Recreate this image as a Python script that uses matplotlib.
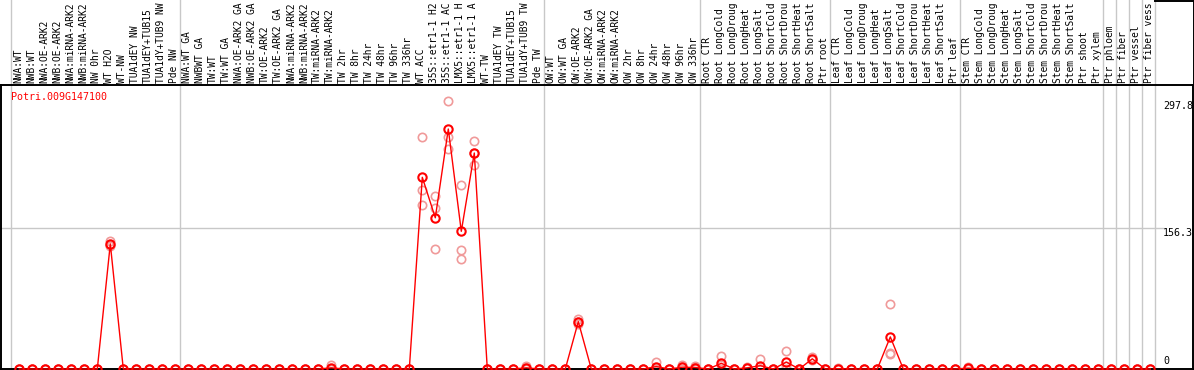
import matplotlib
matplotlib.use("Agg")
import matplotlib.pyplot as plt
import numpy as np
from matplotlib.lines import Line2D

# %%
gene = "Potri.009G147100"

# sample labels as they show in the header (long ones are cut at the top edge there)
labels = [
    # NW
    "NWA:WT", "NWB:WT", "NWA:OE-ARK2", "NWB:OE-ARK2", "NWA:miRNA-ARK2", "NWB:miRNA-ARK2",
    "NW 0hr", "WT H2O", "WT-NW", "TUA1dEY NW", "TUA1dEY+TUB15", "TUA1dY+TUB9 NW", "Pde NW",
    # TW
    "NWA:WT GA", "NWBWT GA", "TW:WT", "TW:WT GA", "NWA:OE-ARK2 GA", "NWB:OE-ARK2 GA",
    "TW:OE-ARK2", "TW:OE-ARK2 GA", "NWA:miRNA-ARK2", "NWB:miRNA-ARK2", "TW:miRNA-ARK2",
    "TW:miRNA-ARK2", "TW 2hr", "TW 8hr", "TW 24hr", "TW 48hr", "TW 96hr", "TW 336hr",
    "WT ACC", "35S::etr1-1 H2", "35S::etr1-1 AC", "LMX5::etr1-1 H", "LMX5::etr1-1 A",
    "WT-TW", "TUA1dEY TW", "TUA1dEY+TUB15", "TUA1dY+TUB9 TW", "Pde TW",
    # OW
    "OW:WT", "OW:WT GA", "OW:OE-ARK2", "OW:OE-ARK2 GA", "OW:miRNA-ARK2", "OW:miRNA-ARK2",
    "OW 2hr", "OW 8hr", "OW 24hr", "OW 48hr", "OW 96hr", "OW 336hr",
    # root
    "Root CTR", "Root LongCold", "Root LongDroug", "Root LongHeat", "Root LongSalt",
    "Root ShortCold", "Root ShortDrou", "Root ShortHeat", "Root ShortSalt", "Ptr root",
    # leaf
    "Leaf CTR", "Leaf LongCold", "Leaf LongDroug", "Leaf LongHeat", "Leaf LongSalt",
    "Leaf ShortCold", "Leaf ShortDrou", "Leaf ShortHeat", "Leaf ShortSalt", "Ptr leaf",
    # stem
    "Stem CTR", "Stem LongCold", "Stem LongDroug", "Stem LongHeat", "Stem LongSalt",
    "Stem ShortCold", "Stem ShortDrou", "Stem ShortHeat", "Stem ShortSalt", "Ptr shoot",
    "Ptr xylem",
    # single tissues
    "Ptr phloem", "Ptr fiber", "Ptr vessel", "Ptr fiber vess",
]

group_sizes = [13, 28, 12, 10, 10, 11, 1, 1, 1, 1]

# replicate values (index -> three replicates), rest are 0
rep_a = [0.0] * 88
rep_b = [0.0] * 88
rep_c = [0.0] * 88
nonzero = {
    7: (142, 138, 137),
    24: (4, 0, 0),
    31: (258, 199, 182),
    32: (192, 179, 133),
    33: (298, 258, 244),
    34: (205, 132, 122),
    35: (253, 227, 240),
    39: (3, 1, 0),
    43: (56, 52, 50),
    49: (8, 0, 0),
    51: (4, 2, 0),
    52: (3, 2, 0),
    54: (15, 4, 0),
    56: (2, 1, 1),
    57: (11, 0, 0),
    59: (20, 3, 0),
    61: (13, 11, 10),
    63: (1, 0, 0),
    67: (72, 18, 17),
    73: (2, 1, 0),
}
for k, (a, b, c) in nonzero.items():
    rep_a[k], rep_b[k], rep_c[k] = a, b, c

y_ticks = [0, 156.3, 297.8]

# %%
reps = np.array([rep_a, rep_b, rep_c])
means = reps.mean(axis=0)
x = np.arange(len(labels))

W, H = 1194, 370
fig = plt.figure(figsize=(W / 100, H / 100), dpi=100)
ax_left, ax_right, ax_top, ax_bot = 1, 1193, 85, 369
ax = fig.add_axes([ax_left / W, (H - ax_bot) / H, (ax_right - ax_left) / W, (ax_bot - ax_top) / H])

px_per_x = 13.0
x0_px = 19.3
ax.set_xlim((ax_left - x0_px) / px_per_x, (ax_right - x0_px) / px_per_x)
px_per_y = 0.9
ax.set_ylim(0, (ax_bot - ax_top) / px_per_y)
ax.set_xticks([])
ax.set_yticks([])
for s in ax.spines.values():
    s.set_color("black")
    s.set_linewidth(1.4)

mono = "DejaVu Sans Mono"
fs = 7.2

# group separators, running through the header
ax_h = ax_bot - ax_top
bounds = np.concatenate([[0], np.cumsum(group_sizes)]) - 0.66
for b in bounds:
    ax.axvline(b, ymin=-0.01, ymax=(ax_bot + 2) / ax_h, color="#c8c8c8", lw=1.0, clip_on=False, zorder=0)

# horizontal reference line
label_xfrac = (1163 - ax_left) / (ax_right - ax_left)
ax.axhline(y_ticks[1], xmin=0, xmax=label_xfrac, color="#c8c8c8", lw=1.0, zorder=0)

# sample labels
for xi, lab in zip(x, labels):
    ax.text(xi - 0.1, 1 + 2 / ax_h, lab, rotation=90, ha="center", va="bottom",
            transform=ax.get_xaxis_transform(), fontsize=6.9, family=mono, clip_on=False)

# replicates, then mean
for r in reps:
    ax.plot(x, r, ls="none", marker="o", ms=6, mfc="none", mec="#f09a9a", mew=1.2, clip_on=False, zorder=2)
ax.plot(x, means, color="red", lw=1.0, marker="o", ms=6, mfc="none", mec="red", mew=1.5, clip_on=False, zorder=3)

# y labels on the right
ytrans = ax.get_yaxis_transform()
ax.text(label_xfrac, y_ticks[2], f"{y_ticks[2]}", transform=ytrans, ha="left", va="top", fontsize=fs, family=mono)
ax.text(label_xfrac, y_ticks[1], f"{y_ticks[1]}", transform=ytrans, ha="left", va="top", fontsize=fs, family=mono)
ax.text(label_xfrac, y_ticks[0] + 3, f"{y_ticks[0]}", transform=ytrans, ha="left", va="bottom", fontsize=fs, family=mono)

# gene name
ax.text(10 / (ax_right - ax_left), 1 - 12 / ax_h, gene, transform=ax.transAxes, ha="left", va="center",
        color="red", fontsize=fs, family=mono)

# header box at top right
fig.add_artist(Line2D([1155 / W, 1], [1 - 0.5 / H, 1 - 0.5 / H], color="black", lw=1.4))
fig.add_artist(Line2D([1 - 0.5 / W, 1 - 0.5 / W], [1, (H - ax_top) / H], color="black", lw=1.4))

fig.savefig("out.png", dpi=100)
